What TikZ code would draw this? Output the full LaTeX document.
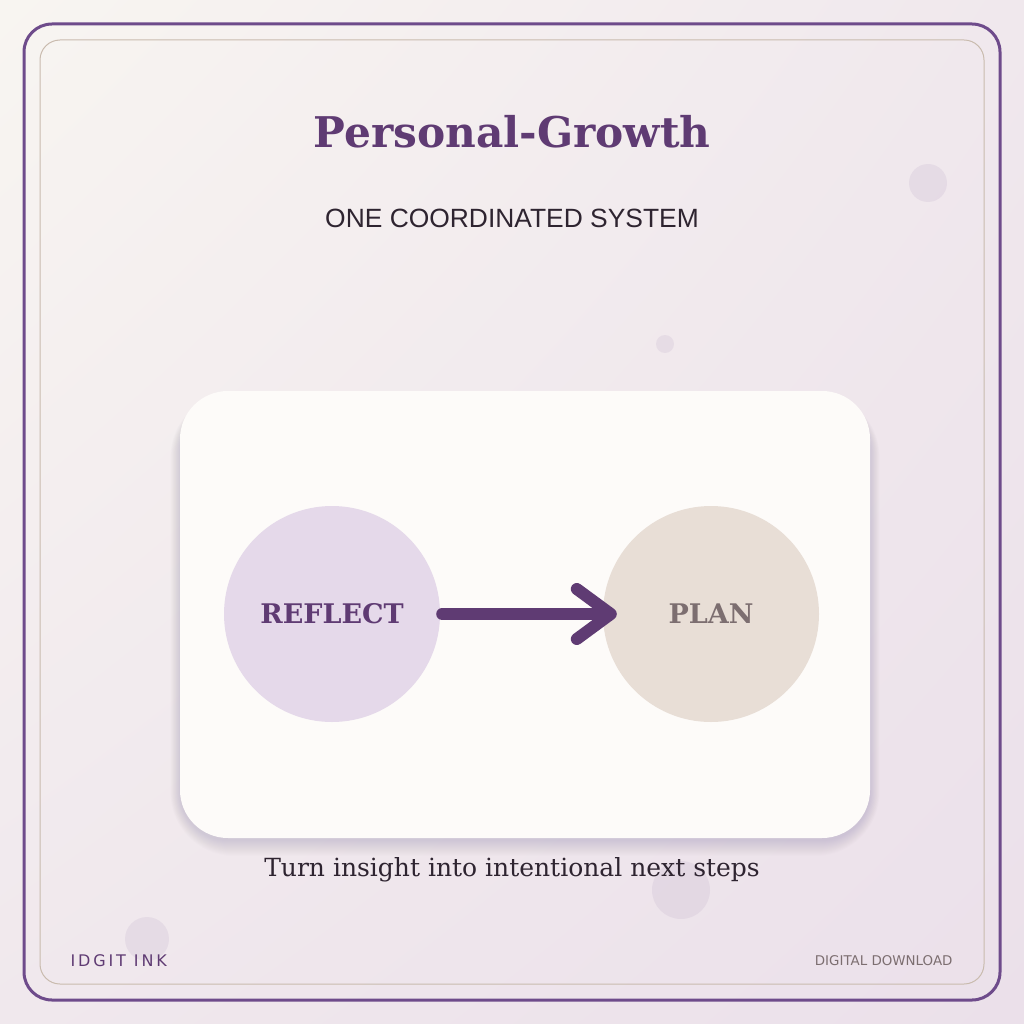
\documentclass[tikz,border=0pt]{standalone}
\usepackage{fontspec}
\setmainfont{DejaVu Serif}
\newfontfamily\headsans{Liberation Sans}
\newfontfamily\footsans{DejaVu Sans}
\newfontfamily\spacedsans[LetterSpace=18]{DejaVu Sans}
\usepackage{tikz}
\usetikzlibrary{arrows.meta, shadings}
\definecolor{plum}{HTML}{5F3B73}
\definecolor{frameplum}{HTML}{6E4B8B}
\definecolor{sand}{HTML}{C9BBAE}
\definecolor{ink}{HTML}{2E2430}
\definecolor{cardwhite}{HTML}{FDFBF9}
\definecolor{lilac}{HTML}{E5D9EA}
\definecolor{linen}{HTML}{E8DED6}
\definecolor{taupe}{HTML}{7C6E70}
\definecolor{bgwarm}{HTML}{F8F5F1}
\definecolor{bgmid}{HTML}{F0E8ED}
\definecolor{bgcool}{HTML}{EBE0EA}

\begin{document}
\begin{tikzpicture}[x=1pt, y=-1pt,
    stage/.style={circle, minimum size=216pt, inner sep=0pt,
      font=\fontsize{27}{32}\selectfont\bfseries},
    flow/.style={-{Straight Barb[length=34pt, width=50pt, round]},
      line width=12pt, line cap=round, plum, shorten <=2pt, shorten >=-14pt},
    dot/.style={fill=frameplum, opacity=0.08},
  ]
    \useasboundingbox (0,0) rectangle (1024,1024);
    \shade[upper left=bgwarm, upper right=bgmid, lower left=bgmid, lower right=bgcool]
      (0,0) rectangle (1024,1024);
    \draw[frameplum, line width=3pt, rounded corners=28pt] (24,24) rectangle (1000,1000);
    \draw[sand, line width=1pt, rounded corners=20pt] (40,40) rectangle (984,984);

    \fill[dot] (928,183) circle (19);
    \fill[dot] (665,344) circle (9);
    \fill[dot] (681,890) circle (29);
    \fill[dot] (147,939) circle (22);

    \node[font=\fontsize{42.3}{50}\selectfont\bfseries, text=plum] (title) at (512,132) {Personal-Growth};
    \node[font=\headsans\fontsize{26.4}{32}\selectfont, text=ink] (subtitle) at (512,218) {ONE COORDINATED SYSTEM};

    % card with soft shadow
    \foreach \s in {1,...,16}
      \fill[frameplum, opacity=0.012, rounded corners=48pt+\s pt]
        (180-0.6*\s,391-0.6*\s+12) rectangle (870+0.6*\s,838+\s+2);
    \fill[cardwhite, rounded corners=48pt] (180,391) rectangle (870,838);

    \node[stage, fill=lilac, text=plum] (reflect) at (332,614) {REFLECT};
    \node[stage, fill=linen, text=taupe] (plan) at (711,614) {PLAN};
    \draw[flow] (reflect) -- (plan);

    \node[font=\fontsize{25}{30}\selectfont, text=ink] (caption) at (512,870) {Turn insight into intentional next steps};
    \node[anchor=west, font=\spacedsans\fontsize{16}{19}\selectfont, text=plum] (brand) at (67,961) {IDGIT INK};
    \node[anchor=east, font=\footsans\fontsize{13.4}{16}\selectfont, text=taupe] (tag) at (956,961) {DIGITAL DOWNLOAD};
\end{tikzpicture}
\end{document}
